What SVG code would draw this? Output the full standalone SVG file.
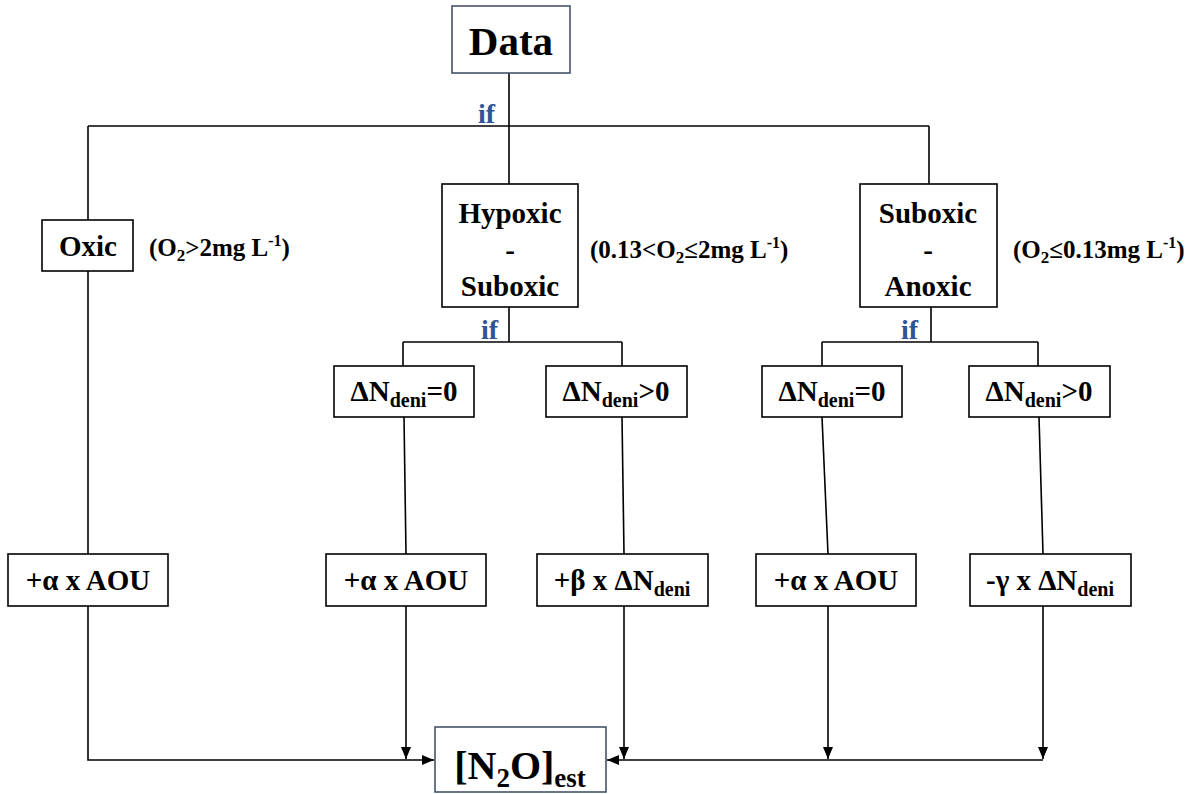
<svg xmlns="http://www.w3.org/2000/svg" width="1198" height="794" viewBox="0 0 1198 794">
<defs>
<marker id="arr" viewBox="0 0 12 10" refX="12" refY="5" markerWidth="12" markerHeight="10" markerUnits="userSpaceOnUse" orient="auto">
<path d="M0,0 L12,5 L0,10 Z" fill="#000"/>
</marker>
</defs>
<style>
text{font-family:"Liberation Serif","Times New Roman",serif;font-weight:bold;fill:#000}
.box{fill:#fff;stroke:#000;stroke-width:1.6}
.bbox{fill:#fff;stroke:#44546a;stroke-width:1.6}
.t{font-size:29px;text-anchor:middle}
.c{font-size:25px}
.if{font-size:28px;fill:#2f5597}
.sub{font-size:20px}
#connectors line,#connectors polyline{stroke:#000;stroke-width:1.6;fill:none}
</style>
<rect width="1198" height="794" fill="#fff"/>
<g id="connectors">
<line x1="509" y1="73" x2="509" y2="184"/>
<line x1="88" y1="126" x2="929" y2="126"/>
<line x1="88" y1="126" x2="88" y2="220"/>
<line x1="929" y1="126" x2="929" y2="184"/>
<line x1="88" y1="271" x2="88" y2="554"/>
<polyline points="88,606 88,760 434,760" marker-end="url(#arr)"/>
<line x1="509" y1="307" x2="509" y2="342"/>
<line x1="403" y1="342" x2="622" y2="342"/>
<line x1="403" y1="342" x2="403" y2="366"/>
<line x1="622" y1="342" x2="622" y2="366"/>
<line x1="931" y1="307" x2="931" y2="342"/>
<line x1="822" y1="342" x2="1038" y2="342"/>
<line x1="822" y1="342" x2="822" y2="366"/>
<line x1="1038" y1="342" x2="1038" y2="366"/>
<line x1="404" y1="417" x2="406" y2="554"/>
<line x1="622" y1="417" x2="624" y2="554"/>
<line x1="822" y1="417" x2="828" y2="554"/>
<line x1="1039" y1="417" x2="1043" y2="554"/>
<line x1="406" y1="606" x2="406" y2="759" marker-end="url(#arr)"/>
<line x1="624" y1="606" x2="624" y2="759" marker-end="url(#arr)"/>
<line x1="828" y1="606" x2="828" y2="759" marker-end="url(#arr)"/>
<line x1="1043" y1="606" x2="1043" y2="759" marker-end="url(#arr)"/>
<polyline points="1043,760 607,760" marker-end="url(#arr)"/>
<text class="if" x="478" y="123">if</text>
<text class="if" x="481" y="339">if</text>
<text class="if" x="901" y="339">if</text>
</g>
<g id="data">
<rect class="bbox" x="452" y="6" width="118" height="67"/>
<text x="511" y="55" style="font-size:41px;text-anchor:middle">Data</text>
</g>
<g id="oxic">
<rect class="box" x="42" y="220" width="91" height="51"/>
<text class="t" x="88" y="256">Oxic</text>
<text class="c" x="149" y="256">(O<tspan dy="5" style="font-size:17px">2</tspan><tspan dy="-5">&gt;2mg L</tspan><tspan dy="-10" style="font-size:16px">-1</tspan><tspan dy="10">)</tspan></text>
</g>
<g id="hypoxic">
<rect class="box" x="442" y="184" width="136" height="123"/>
<text class="t" x="510" y="223">Hypoxic</text>
<text class="t" x="510" y="260">-</text>
<text class="t" x="510" y="296">Suboxic</text>
<text class="c" x="590" y="258">(0.13&lt;O<tspan dy="5" style="font-size:17px">2</tspan><tspan dy="-5">≤2mg L</tspan><tspan dy="-10" style="font-size:16px">-1</tspan><tspan dy="10">)</tspan></text>
</g>
<g id="anoxic">
<rect class="box" x="860" y="184" width="137" height="123"/>
<text class="t" x="928" y="223">Suboxic</text>
<text class="t" x="928" y="260">-</text>
<text class="t" x="928" y="296">Anoxic</text>
<text class="c" x="1013" y="258">(O<tspan dy="5" style="font-size:17px">2</tspan><tspan dy="-5">≤0.13mg L</tspan><tspan dy="-10" style="font-size:16px">-1</tspan><tspan dy="10">)</tspan></text>
</g>
<g id="dn0a">
<rect class="box" x="334" y="366" width="140" height="51"/>
<text class="t" x="404" y="401">ΔN<tspan class="sub" dy="6">deni</tspan><tspan dy="-6">=0</tspan></text>
</g>
<g id="dnpa">
<rect class="box" x="546" y="366" width="141" height="51"/>
<text class="t" x="616" y="401">ΔN<tspan class="sub" dy="6">deni</tspan><tspan dy="-6">&gt;0</tspan></text>
</g>
<g id="dn0b">
<rect class="box" x="762" y="366" width="140" height="51"/>
<text class="t" x="832" y="401">ΔN<tspan class="sub" dy="6">deni</tspan><tspan dy="-6">=0</tspan></text>
</g>
<g id="dnpb">
<rect class="box" x="969" y="366" width="141" height="51"/>
<text class="t" x="1039" y="401">ΔN<tspan class="sub" dy="6">deni</tspan><tspan dy="-6">&gt;0</tspan></text>
</g>
<g id="aou1">
<rect class="box" x="8" y="554" width="160" height="52"/>
<text class="t" x="88" y="590">+α x AOU</text>
</g>
<g id="aou2">
<rect class="box" x="326" y="554" width="160" height="52"/>
<text class="t" x="406" y="590">+α x AOU</text>
</g>
<g id="beta">
<rect class="box" x="537" y="554" width="171" height="52"/>
<text class="t" x="622" y="590">+β x ΔN<tspan class="sub" dy="6">deni</tspan></text>
</g>
<g id="aou3">
<rect class="box" x="756" y="554" width="160" height="52"/>
<text class="t" x="836" y="590">+α x AOU</text>
</g>
<g id="gamma">
<rect class="box" x="970" y="554" width="161" height="52"/>
<text class="t" x="1050" y="590">-γ x ΔN<tspan class="sub" dy="6">deni</tspan></text>
</g>
<g id="n2o">
<rect class="bbox" x="435" y="727" width="171" height="65"/>
<text x="520" y="779" style="font-size:40px;text-anchor:middle">[N<tspan dy="8" style="font-size:27px">2</tspan><tspan dy="-8">O]</tspan><tspan dy="8" style="font-size:27px">est</tspan></text>
</g>
</svg>
